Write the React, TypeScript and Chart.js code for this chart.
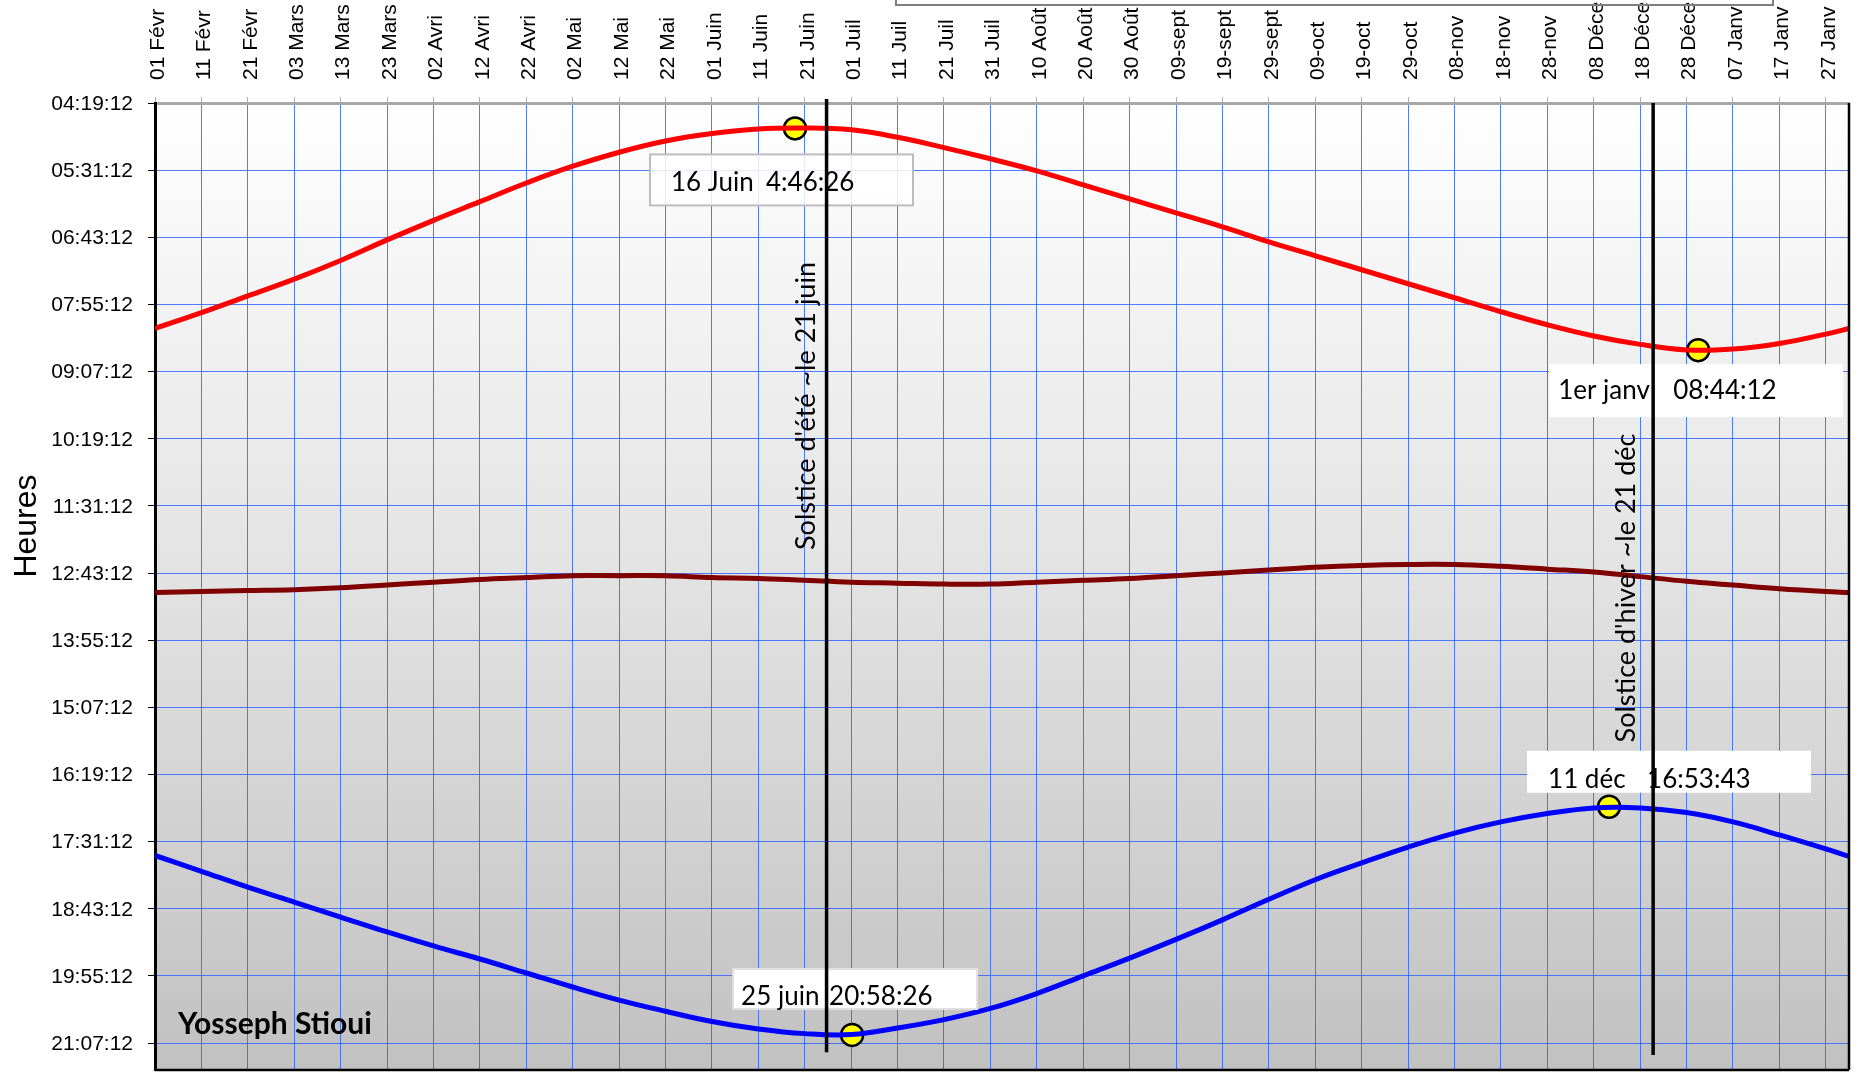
import React, { useEffect, useRef } from 'react';
import { Chart, registerables } from 'chart.js';

Chart.register(...registerables);

// ---------- DATA ----------
const xTickDays = [0, 10, 20, 30, 40, 50, 60, 70, 80, 90, 100, 110, 120, 130, 140, 150, 160, 170, 180, 190, 200, 210, 220, 230, 240, 250, 260, 270, 280, 290, 300, 310, 320, 330, 340, 350, 360];
const xTickLabels = [
  '01 Févr', '11 Févr', '21 Févr', '03 Mars', '13 Mars', '23 Mars', '02 Avri', '12 Avri', '22 Avri',
  '02 Mai', '12 Mai', '22 Mai', '01 Juin', '11 Juin', '21 Juin', '01 Juil', '11 Juil', '21 Juil',
  '31 Juil', '10 Août', '20 Août', '30 Août', '09-sept', '19-sept', '29-sept', '09-oct', '19-oct',
  '29-oct', '08-nov', '18-nov', '28-nov', '08 Déce', '18 Déce', '28 Déce', '07 Janv', '17 Janv', '27 Janv',
];
const yTickLabels = [
  '04:19:12', '05:31:12', '06:43:12', '07:55:12', '09:07:12', '10:19:12', '11:31:12', '12:43:12',
  '13:55:12', '15:07:12', '16:19:12', '17:31:12', '18:43:12', '19:55:12', '21:07:12',
];
const yAxisMin = '04:19:12';
const yAxisMax = '21:36:00';
const xAxisMin = 0;
const xAxisMax = 365;

// days counted from 1 February
const sampleDays = [0, 10, 20, 30, 40, 50, 60, 70, 80, 90, 100, 110, 120, 130, 140, 150, 160, 170, 180, 190, 200, 210, 220, 230, 240, 250, 260, 270, 280, 290, 300, 310, 320, 330, 340, 350, 360, 365];
const sunrise = [
  '8:21', '8:04', '7:46', '7:28', '7:08', '6:46', '6:25', '6:05', '5:45', '5:27',
  '5:12', '5:00', '4:52', '4:47', '4:46', '4:48', '4:56', '5:07', '5:19', '5:32',
  '5:47', '6:02', '6:17', '6:32', '6:48', '7:03', '7:18', '7:33', '7:48', '8:03',
  '8:17', '8:29', '8:38', '8:44', '8:43', '8:37', '8:27', '8:21',
];
const solarNoon = [
  '13:04', '13:03', '13:02', '13:01', '12:59', '12:56', '12:53', '12:50', '12:48', '12:46',
  '12:46', '12:46', '12:48', '12:49', '12:51', '12:53', '12:54', '12:55', '12:55', '12:53',
  '12:51', '12:49', '12:46', '12:43', '12:40', '12:37', '12:35', '12:34', '12:34', '12:36',
  '12:39', '12:42', '12:47', '12:52', '12:56', '13:00', '13:03', '13:04',
];
const sunset = [
  '17:46', '18:03', '18:20', '18:36', '18:52', '19:08', '19:23', '19:37', '19:52', '20:07',
  '20:21', '20:33', '20:44', '20:52', '20:57', '20:58', '20:51', '20:42', '20:30', '20:14',
  '19:55', '19:36', '19:16', '18:55', '18:33', '18:12', '17:54', '17:37', '17:22', '17:10',
  '17:01', '16:55', '16:55', '17:00', '17:10', '17:24', '17:39', '17:47',
];

// highlighted extremes
const markerDays = [137.9, 332.5, 313.3, 150.2];
const markerTimes = ['4:46:26', '8:44:12', '16:53:43', '20:58:26'];
const markerDateLabels = ['16 Juin', '1er janv', '11 déc', '25 juin'];
const markerTimeLabels = ['4:46:26', '08:44:12', '16:53:43', '20:58:26'];

// solstice reference lines
const solsticeDays = [144.7, 322.8];
const solsticeFrom = ['04:15:00', '04:19:12'];
const solsticeTo = ['21:17:00', '21:20:00'];
const solsticeLabels = ["Solstice d'été ~le 21 juin", "Solstice d'hiver ~le 21 déc"];

const yTitle = 'Heures';
const author = 'Yosseph Stioui';

// ---------- helpers ----------
const toMin = (s: string) => {
  const p = s.split(':').map(Number);
  return p[0] * 60 + (p[1] || 0) + (p[2] || 0) / 60;
};

// ---------- styles ----------
const W = 1858;
const H = 1073;
const GRID = 'rgba(50,100,255,0.85)';
const AXIS_LABEL_FONT = '21px "Liberation Sans", Arial, sans-serif';
const ANN_FONT = '26px Lato, "Open Sans", sans-serif';
const SOLSTICE_FONT = '27px Lato, "Open Sans", sans-serif';
const boxStyles = [
  { dx: -145, dy: 26, w: 263, h: 51, border: '#bdbdbd', fill: 'rgba(255,255,255,0.85)', t1: [-124, 63], t2: [-29, 63] },
  { dx: -149, dy: 14, w: 294, h: 53, border: null, fill: '#ffffff', t1: [-140, 49], t2: [-25, 49] },
  { dx: -82, dy: -56, w: 284, h: 42, border: null, fill: '#ffffff', t1: [-61, -19], t2: [38, -19] },
  { dx: -119, dy: -66, w: 244, h: 40, border: '#e0e0e0', fill: '#ffffff', t1: [-111, -30], t2: [-23, -30] },
];
const solsticeLabelStyle = [
  { dx: -20, cy: 406 },
  { dx: -27, cy: 588 },
];

const decorPlugin = {
  id: 'decor',
  beforeDraw(chart: any) {
    const { ctx, chartArea: a } = chart;
    ctx.save();
    const g = ctx.createLinearGradient(0, a.top, 0, a.bottom);
    g.addColorStop(0, '#ffffff');
    g.addColorStop(0.5, '#e2e2e2');
    g.addColorStop(1, '#c1c1c1');
    ctx.fillStyle = g;
    ctx.fillRect(a.left, a.top, a.right - a.left, a.bottom - a.top);
    ctx.restore();
  },
  afterDraw(chart: any) {
    const { ctx, chartArea: a, scales } = chart;
    const xs = scales.x;
    const ys = scales.y;
    ctx.save();

    // x tick labels (rotated, reading upward, starting near the axis)
    ctx.font = AXIS_LABEL_FONT;
    ctx.fillStyle = '#000';
    xTickDays.forEach((d, i) => {
      const px = xs.getPixelForValue(d);
      ctx.save();
      ctx.translate(px + 3, 80);
      ctx.rotate(-Math.PI / 2);
      ctx.textAlign = 'left';
      ctx.textBaseline = 'middle';
      ctx.fillText(xTickLabels[i], 0, 0);
      ctx.restore();
    });

    // y tick labels
    ctx.textAlign = 'right';
    ctx.textBaseline = 'middle';
    yTickLabels.forEach((l) => {
      const py = ys.getPixelForValue(toMin(l));
      ctx.fillText(l, 133, py + 1);
    });

    // right & bottom frame
    ctx.strokeStyle = '#000';
    ctx.lineWidth = 2.5;
    ctx.beginPath();
    ctx.moveTo(a.left, a.bottom);
    ctx.lineTo(a.right, a.bottom);
    ctx.moveTo(a.right, a.top);
    ctx.lineTo(a.right, a.bottom);
    ctx.stroke();

    // clipped top box (legend frame)
    ctx.strokeStyle = '#7f7f7f';
    ctx.lineWidth = 2;
    ctx.strokeRect(896, -20, 877, 25);

    // annotation boxes
    ctx.font = ANN_FONT;
    ctx.textBaseline = 'alphabetic';
    ctx.textAlign = 'left';
    markerDays.forEach((d, i) => {
      const px = xs.getPixelForValue(d);
      const py = ys.getPixelForValue(toMin(markerTimes[i]));
      const s = boxStyles[i];
      ctx.fillStyle = s.fill;
      ctx.fillRect(px + s.dx, py + s.dy, s.w, s.h);
      if (s.border) {
        ctx.strokeStyle = s.border;
        ctx.lineWidth = 2;
        ctx.strokeRect(px + s.dx, py + s.dy, s.w, s.h);
      }
      ctx.fillStyle = '#000';
      ctx.fillText(markerDateLabels[i], px + s.t1[0], py + s.t1[1]);
      ctx.fillText(markerTimeLabels[i], px + s.t2[0], py + s.t2[1]);
    });

    // solstice lines + labels
    solsticeDays.forEach((d, i) => {
      const px = xs.getPixelForValue(d);
      ctx.strokeStyle = '#000';
      ctx.lineWidth = 3.5;
      ctx.beginPath();
      ctx.moveTo(px, ys.getPixelForValue(toMin(solsticeFrom[i])));
      ctx.lineTo(px, ys.getPixelForValue(toMin(solsticeTo[i])));
      ctx.stroke();
      const st = solsticeLabelStyle[i];
      ctx.save();
      ctx.translate(px + st.dx, st.cy);
      ctx.rotate(-Math.PI / 2);
      ctx.textAlign = 'center';
      ctx.textBaseline = 'middle';
      ctx.fillStyle = '#000';
      ctx.font = SOLSTICE_FONT;
      ctx.fillText(solsticeLabels[i], 0, 0);
      ctx.restore();
    });

    // author
    ctx.font = 'bold 30px Lato, "Open Sans", sans-serif';
    ctx.fillStyle = '#000';
    ctx.textAlign = 'left';
    ctx.textBaseline = 'middle';
    ctx.fillText(author, 178, 1024);

    // y axis title
    ctx.save();
    ctx.translate(27, 526);
    ctx.rotate(-Math.PI / 2);
    ctx.textAlign = 'center';
    ctx.textBaseline = 'middle';
    ctx.font = '32px "Liberation Sans", Arial, sans-serif';
    ctx.fillText(yTitle, 0, 0);
    ctx.restore();

    ctx.restore();
  },
};

export default function App() {
  const ref = useRef<HTMLCanvasElement | null>(null);

  useEffect(() => {
    document.body.style.margin = '0';
    const canvas = ref.current;
    if (!canvas) return;
    const mk = (arr: string[]) => sampleDays.map((d, i) => ({ x: d, y: toMin(arr[i]) }));
    const lineStyle = { borderWidth: 5, pointRadius: 0, tension: 0.4, fill: false };
    const chart = new Chart(canvas, {
      type: 'line',
      data: {
        datasets: [
          { label: 'Lever', data: mk(sunrise), borderColor: '#ff0000', ...lineStyle },
          { label: 'Midi', data: mk(solarNoon), borderColor: '#800000', ...lineStyle },
          { label: 'Coucher', data: mk(sunset), borderColor: '#0000ff', ...lineStyle },
          {
            label: 'Extrêmes',
            data: markerDays.map((d, i) => ({ x: d, y: toMin(markerTimes[i]) })),
            showLine: false,
            pointRadius: 11,
            pointBackgroundColor: '#ffff00',
            pointBorderColor: '#000',
            pointBorderWidth: 2.5,
            borderColor: '#000',
            backgroundColor: '#ffff00',
          },
        ],
      } as any,
      options: {
        responsive: false,
        animation: false,
        layout: { autoPadding: false, padding: { left: 0, right: 9, top: 0, bottom: 3 } },
        plugins: { legend: { display: false }, tooltip: { enabled: false }, title: { display: false } },
        scales: {
          x: {
            type: 'linear',
            position: 'top',
            min: xAxisMin,
            max: xAxisMax,
            afterBuildTicks: (s: any) => {
              s.ticks = xTickDays.map((v) => ({ value: v }));
            },
            afterFit: (s: any) => {
              s.height = 103;
            },
            ticks: { display: false, autoSkip: false },
            grid: { color: GRID, lineWidth: 1, tickColor: '#b0b0b0', tickLength: 6 },
            border: { color: '#a8a8a8', width: 3 },
          },
          y: {
            type: 'linear',
            reverse: true,
            min: toMin(yAxisMin),
            max: toMin(yAxisMax),
            afterBuildTicks: (s: any) => {
              s.ticks = yTickLabels.map((l) => ({ value: toMin(l) }));
            },
            afterFit: (s: any) => {
              s.width = 155;
            },
            ticks: { display: false, autoSkip: false },
            grid: { color: GRID, lineWidth: 1, tickColor: '#000', tickLength: 7 },
            border: { color: '#000', width: 3 },
          },
        },
      } as any,
      plugins: [decorPlugin],
    });
    return () => chart.destroy();
  }, []);

  return (
    <div style={{ width: W, height: H, position: 'relative', background: '#fff' }}>
      <canvas ref={ref} width={W} height={H} style={{ display: 'block', width: W, height: H }} />
    </div>
  );
}
